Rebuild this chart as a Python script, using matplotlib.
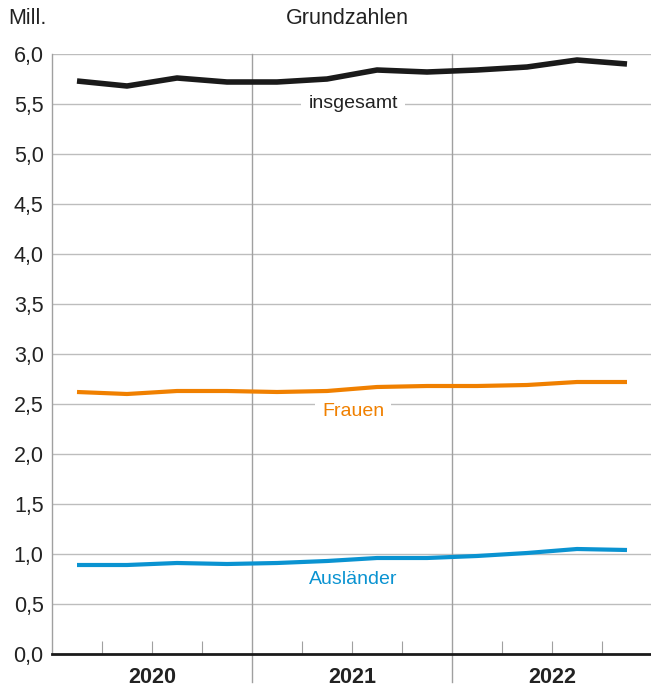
import matplotlib.pyplot as plt
import numpy as np

plt.rcParams['font.family'] = ['Liberation Sans', 'DejaVu Sans']

# quarterly values 2020 Q1 - 2022 Q4, in millions
quarters = np.arange(12)
insgesamt = [5.73, 5.68, 5.76, 5.72, 5.72, 5.75, 5.84, 5.82, 5.84, 5.87, 5.94, 5.90]
frauen = [2.62, 2.60, 2.63, 2.63, 2.62, 2.63, 2.67, 2.68, 2.68, 2.69, 2.72, 2.72]
auslaender = [0.89, 0.89, 0.91, 0.90, 0.91, 0.93, 0.96, 0.96, 0.98, 1.01, 1.05, 1.04]
years = ['2020', '2021', '2022']
yticks = np.arange(0, 6.01, 0.5)

fig = plt.figure(figsize=(6.51, 6.89), dpi=100)
ax = fig.add_axes([52/651, 35/689, 600/651, 600/689])

black = '#1a1a1a'
orange = '#f08000'
blue = '#0a93d1'

ax.plot(quarters, insgesamt, color=black, lw=4.0, solid_capstyle='butt', zorder=3)
ax.plot(quarters, frauen, color=orange, lw=3.0, solid_capstyle='butt', zorder=3)
ax.plot(quarters, auslaender, color=blue, lw=3.0, solid_capstyle='butt', zorder=3)

ax.set_xlim(-0.5, 11.5)
ax.set_ylim(0, 6)
ax.set_yticks(yticks)
ax.set_yticklabels([f'{v:.1f}'.replace('.', ',') for v in yticks], fontsize=15.5, color='#222222')
ax.tick_params(axis='y', length=0, pad=6)

for v in yticks[1:]:
    ax.axhline(v, color='#bdbdbd', lw=1, zorder=1)

# year separators, reaching below the axis
for xb in [3.5, 7.5]:
    ax.axvline(xb, ymin=-0.047, ymax=1, color='#a0a0a0', lw=1, clip_on=False, zorder=1)

# quarter ticks
qt = [x + 0.5 for x in range(11) if (x + 1) % 4 != 0]
ax.set_xticks(qt)
ax.set_xticklabels([])
ax.tick_params(axis='x', direction='in', length=9.5, width=0.8, color='#a0a0a0')

for i, y in enumerate(years):
    ax.text(1.5 + 4 * i, -0.13, y, ha='center', va='top', fontsize=15.5,
            fontweight='bold', color='#222222')

for s in ['top', 'right']:
    ax.spines[s].set_visible(False)
ax.spines['left'].set_color('#a0a0a0')
ax.spines['left'].set_linewidth(1)
ax.spines['bottom'].set_color(black)
ax.spines['bottom'].set_linewidth(2)
ax.spines['bottom'].set_zorder(4)

bb = dict(facecolor='white', edgecolor='none', pad=5)
ax.text(5.52, 5.50, 'insgesamt', ha='center', va='center', fontsize=14,
        color='#222222', bbox=bb, zorder=2)
ax.text(5.52, 2.42, 'Frauen', ha='center', va='center', fontsize=14,
        color=orange, bbox=bb, zorder=2)
ax.text(5.52, 0.74, 'Ausländer', ha='center', va='center', fontsize=14,
        color=blue, bbox=bb, zorder=2)

fig.text(8/651, 1 - 18/689, 'Mill.', ha='left', va='center', fontsize=15.5, color='#222222')
fig.text(347/651, 1 - 18/689, 'Grundzahlen', ha='center', va='center', fontsize=15.5, color='#222222')

fig.savefig('out.png', dpi=100)
